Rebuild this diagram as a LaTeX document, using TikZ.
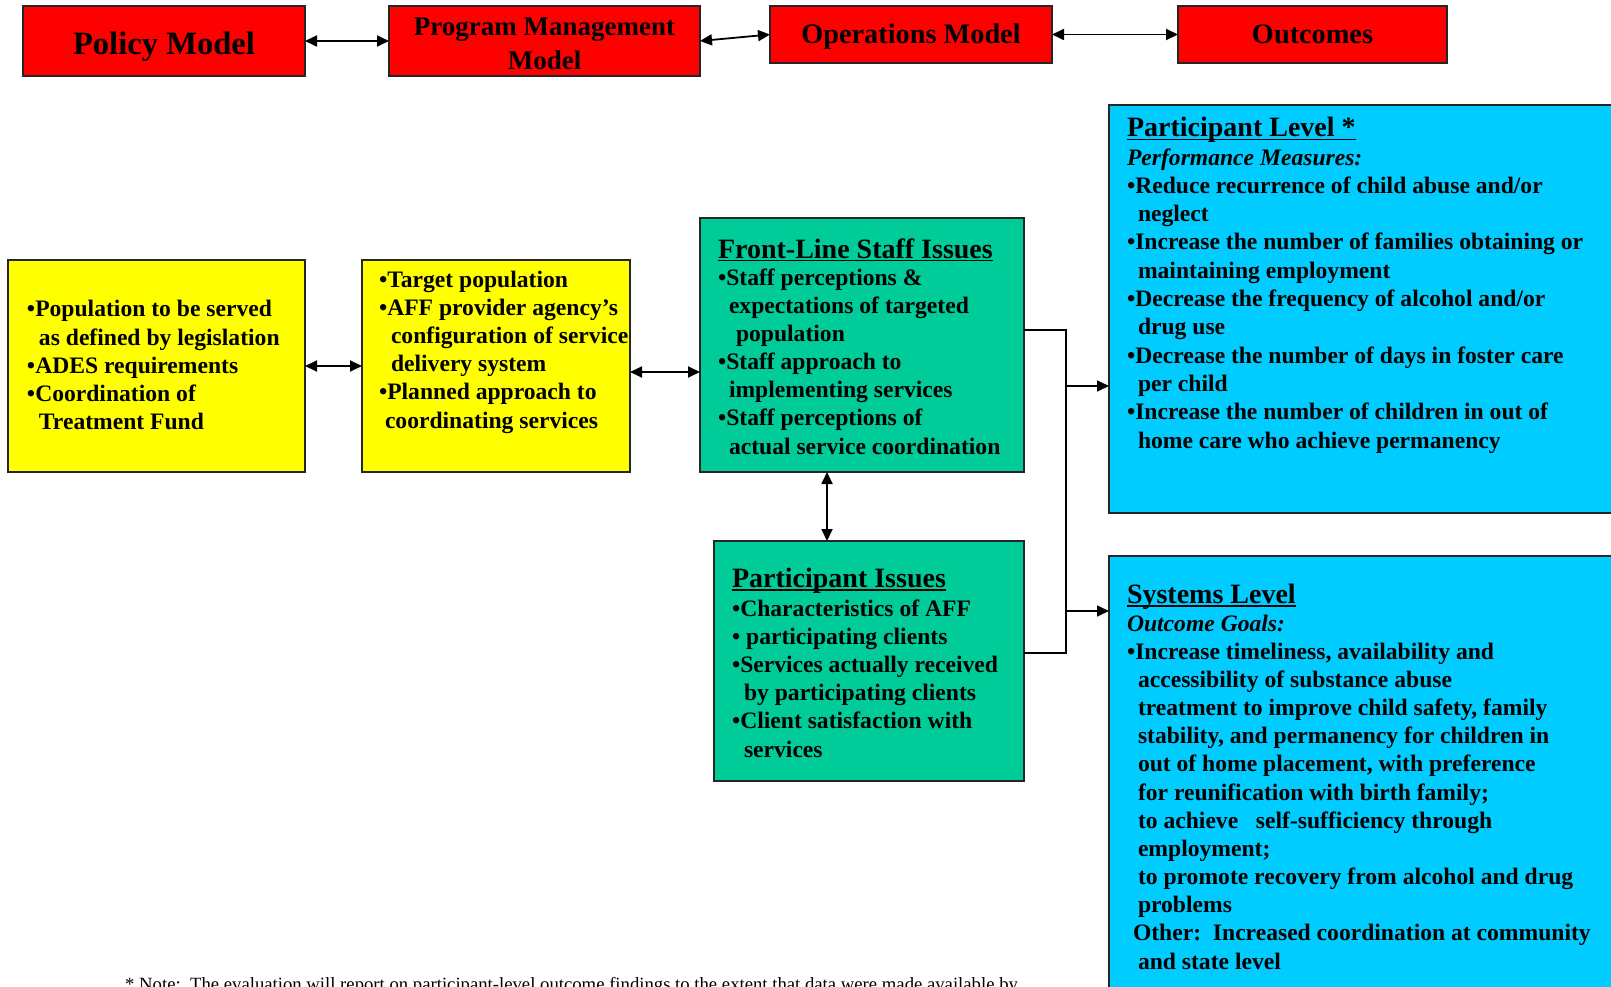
\documentclass[tikz,border=0pt]{standalone}
\usepackage{fontspec}
\setmainfont{Liberation Serif}
\usetikzlibrary{arrows.meta}
\definecolor{redbox}{HTML}{FF0000}
\definecolor{yelbox}{HTML}{FFFF00}
\definecolor{grnbox}{HTML}{00CC99}
\definecolor{blubox}{HTML}{00CCFF}
\newcommand\hdul[1]{\setbox0\hbox{#1}\rlap{\rule[-3.5pt]{\wd0}{1.8pt}}\box0}
\newcommand\lowr[2]{\raisebox{-#1}[\height][\depth]{#2}}
\begin{document}
\begin{tikzpicture}[x=1pt,y=-1pt,
  box/.style={draw=black!85, line width=1.8pt, inner sep=0pt, outer sep=0pt, anchor=north west},
  topbox/.style={box, fill=redbox, font=\bfseries\fontsize{28.3}{34}\selectfont, align=center},
  txt/.style={anchor=north west, inner sep=0pt, outer sep=0pt, align=left},
  hd/.style={anchor=base west, inner sep=0pt, outer sep=0pt, font=\bfseries\fontsize{28}{32}\selectfont},
  link/.style={line width=1.8pt, {Triangle[length=12pt,width=11pt]}-{Triangle[length=12pt,width=11pt]}},
  arr/.style={line width=1.6pt, -{Triangle[length=12pt,width=11pt]}},
  wire/.style={line width=1.6pt}]
\useasboundingbox (0,0) rectangle (1611,987);
% top row
\node[topbox, minimum width=282pt, minimum height=70pt, font=\bfseries\fontsize{32.6}{36}\selectfont] (pol) at (23,6) {\lowr{6pt}{Policy Model}};
\node[topbox, minimum width=311pt, minimum height=70pt, font=\bfseries\fontsize{27}{34}\selectfont] (prg) at (389,6) {\lowr{3pt}{Program Management}\\\lowr{3pt}{Model}};
\node[topbox, minimum width=282pt, minimum height=57pt] (ops) at (770,6) {\lowr{2pt}{Operations Model}};
\node[topbox, minimum width=269pt, minimum height=57pt] (out) at (1178,6) {Outcomes};
\draw[link] (pol.east) -- (prg.west);
\draw[link] (prg.east) -- (ops.west);
\draw[link] (ops.east) -- (out.west);
% boxes
\node[box, fill=yelbox, minimum width=297pt, minimum height=212pt] (y1) at (8,260) {};
\node[box, fill=yelbox, minimum width=268pt, minimum height=212pt] (y2) at (362,260) {};
\node[box, fill=grnbox, minimum width=324pt, minimum height=254pt] (g1) at (700,218) {};
\node[box, fill=grnbox, minimum width=310pt, minimum height=240pt] (g2) at (714,541) {};
\node[box, fill=blubox, minimum width=530pt, minimum height=408pt] (b1) at (1109,105) {};
\node[box, fill=blubox, minimum width=530pt, minimum height=460pt] (b2) at (1109,556) {};
% texts
\node[txt, font=\bfseries\fontsize{23.6}{28.25}\selectfont] (y1t) at (27,297.2) {\strut•Population to be served\\\hspace*{12pt}as defined by legislation\\•ADES requirements\\•Coordination of\\\hspace*{12pt}Treatment Fund};
\node[txt, font=\bfseries\fontsize{23.6}{28.2}\selectfont] (y2t) at (379,267.3) {\strut•Target population\\•AFF provider agency’s\\\hspace*{12pt}configuration of service\\\hspace*{12pt}delivery system\\•Planned approach to\\\hspace*{6pt}coordinating services};
\node[hd] (g1h) at (718,258) {\hdul{Front-Line Staff Issues}};
\node[txt, font=\bfseries\fontsize{23.6}{28.17}\selectfont] (g1t) at (718,265.3) {\strut•Staff perceptions \&\\\hspace*{11pt}expectations of targeted\\\hspace*{18pt}population\\•Staff approach to\\\hspace*{11pt}implementing services\\•Staff perceptions of\\\hspace*{11pt}actual service coordination};
\node[hd] (g2h) at (732,587) {\hdul{Participant Issues}};
\node[txt, font=\bfseries\fontsize{23.6}{28.2}\selectfont] (g2t) at (732,596.3) {\strut•Characteristics of AFF\\• participating clients\\•Services actually received\\\hspace*{12pt}by participating clients\\•Client satisfaction with\\\hspace*{12pt}services};
\node[hd] (b1h) at (1127,137) {\hdul{Participant Level *}};
\node[txt, font=\bfseries\fontsize{23.6}{28.3}\selectfont] (b1t) at (1127,145.2) {\strut\textit{Performance Measures:}\\•Reduce recurrence of child abuse and/or\\\hspace*{11pt}neglect\\•Increase the number of families obtaining or\\\hspace*{11pt}maintaining employment\\•Decrease the frequency of alcohol and/or\\\hspace*{11pt}drug use\\•Decrease the number of days in foster care\\\hspace*{11pt}per child\\•Increase the number of children in out of\\\hspace*{11pt}home care who achieve permanency};
\node[hd] (b2h) at (1127,603) {\hdul{Systems Level}};
\node[txt, font=\bfseries\fontsize{23.6}{28.17}\selectfont] (b2t) at (1127,611.3) {\strut\textit{Outcome Goals:}\\•Increase timeliness, availability and\\\hspace*{11pt}accessibility of substance abuse\\\hspace*{11pt}treatment to improve child safety, family\\\hspace*{11pt}stability, and permanency for children in\\\hspace*{11pt}out of home placement, with preference\\\hspace*{11pt}for reunification with birth family;\\\hspace*{11pt}to achieve\ \ \ self-sufficiency through\\\hspace*{11pt}employment;\\\hspace*{11pt}to promote recovery from alcohol and drug\\\hspace*{11pt}problems\\\hspace*{6pt}Other:\ \ Increased coordination at community\\\hspace*{11pt}and state level};
\node[anchor=base west, inner sep=0pt, font=\fontsize{18.7}{22}\selectfont] (note) at (125,990) {* Note:\ \ The evaluation will report on participant-level outcome findings to the extent that data were made available by};
% connectors
\draw[link] (y1.east) -- (y2.west);
\draw[link] (y2.east |- 0,372) -- (g1.west |- 0,372);
\draw[link] (g1.south -| 827,0) -- (g2.north -| 827,0);
\coordinate (jt) at (1066,330);
\coordinate (jb) at (1066,653);
\coordinate (j1) at (1066,386);
\coordinate (j2) at (1066,611);
\draw[wire] (g1.east |- jt) -- (jt) -- (jb) -- (g2.east |- jb);
\draw[arr] (j1) -- (b1.west |- j1);
\draw[arr] (j2) -- (b2.west |- j2);
\end{tikzpicture}
\end{document}
